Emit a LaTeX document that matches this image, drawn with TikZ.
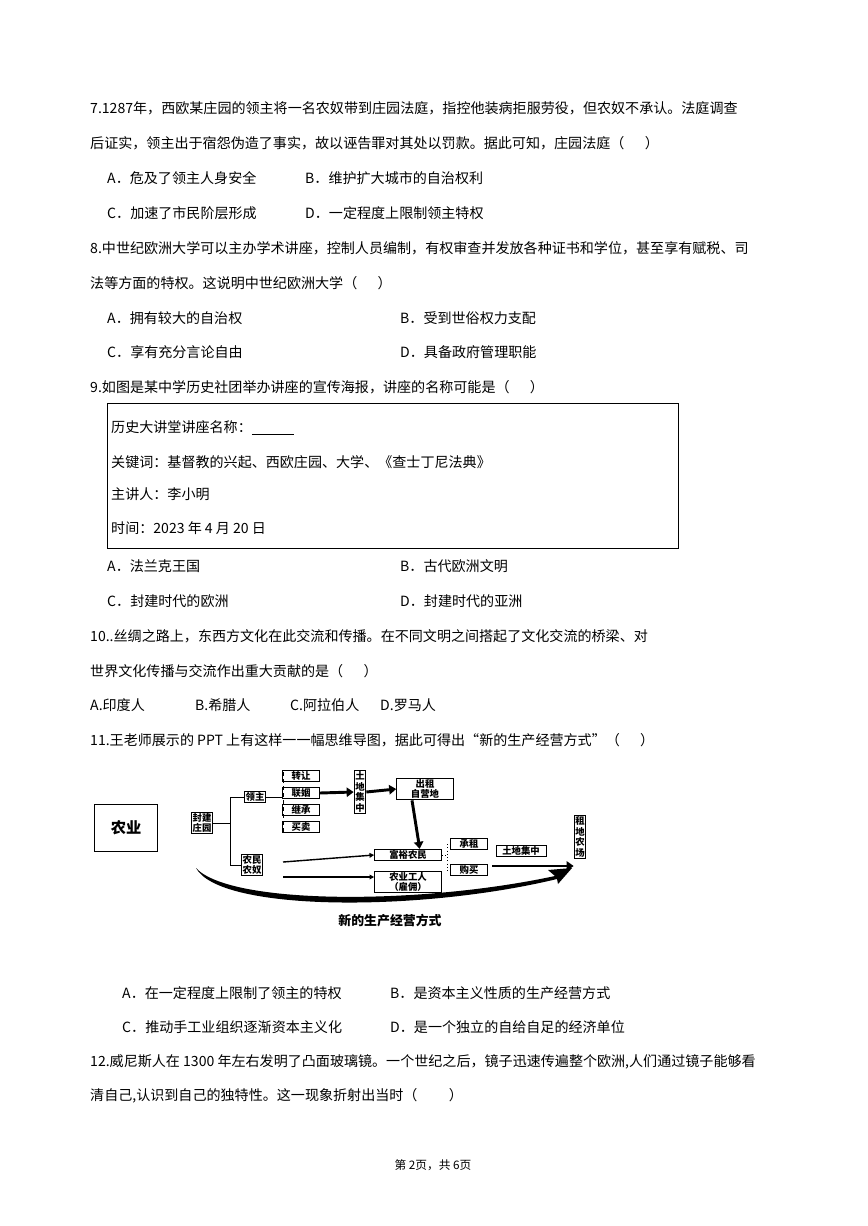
\documentclass[tikz,border=0pt]{standalone}
\usepackage{fontspec}
\setmainfont{Noto Sans CJK SC}
\usetikzlibrary{arrows.meta}
\tikzset{
  line/.style={anchor=west,inner sep=0pt,font=\fontsize{12}{14}\selectfont},
  box/.style={draw,thick,inner sep=1pt,align=center,font=\fontsize{8}{9}\selectfont\bfseries},
  fat/.style={line width=2.5pt,-{Triangle[length=6pt,width=8pt]}},
  thin/.style={line width=1.2pt,-{Triangle[length=4pt,width=4pt]}}
}
\begin{document}
\begin{tikzpicture}[x=0.3mm,y=-0.3mm]
  \useasboundingbox (0,0) rectangle (867,1226);
  % question 7
  \node[line] (q7a) at (90,108) {7.1287年，西欧某庄园的领主将一名农奴带到庄园法庭，指控他装病拒服劳役，但农奴不承认。法庭调查};
  \node[line] (q7b) at (90,143) {后证实，领主出于宿怨伪造了事实，故以诬告罪对其处以罚款。据此可知，庄园法庭（\quad\ \ ）};
  \node[line] (q7A) at (107,178) {A．危及了领主人身安全};
  \node[line] (q7B) at (305,178) {B．维护扩大城市的自治权利};
  \node[line] (q7C) at (107,213) {C．加速了市民阶层形成};
  \node[line] (q7D) at (305,213) {D．一定程度上限制领主特权};
  % question 8
  \node[line] (q8a) at (90,248) {8.中世纪欧洲大学可以主办学术讲座，控制人员编制，有权审查并发放各种证书和学位，甚至享有赋税、司};
  \node[line] (q8b) at (90,283) {法等方面的特权。这说明中世纪欧洲大学（\quad\ \ ）};
  \node[line] (q8A) at (107,318) {A．拥有较大的自治权};
  \node[line] (q8B) at (400,318) {B．受到世俗权力支配};
  \node[line] (q8C) at (107,352) {C．享有充分言论自由};
  \node[line] (q8D) at (400,352) {D．具备政府管理职能};
  % question 9
  \node[line] (q9) at (90,387) {9.如图是某中学历史社团举办讲座的宣传海报，讲座的名称可能是（\quad\ \ ）};
  \draw (107,403) rectangle (678,548);
  \node[line] (p1) at (111,428) {历史大讲堂讲座名称：\underline{\hspace{3em}}};
  \node[line] (p2) at (111,462) {关键词：基督教的兴起、西欧庄园、大学、《查士丁尼法典》};
  \node[line] (p3) at (111,494) {主讲人：李小明};
  \node[line] (p4) at (111,528) {时间：2023 年 4 月 20 日};
  \node[line] (q9A) at (107,566) {A．法兰克王国};
  \node[line] (q9B) at (400,566) {B．古代欧洲文明};
  \node[line] (q9C) at (107,601) {C．封建时代的欧洲};
  \node[line] (q9D) at (400,601) {D．封建时代的亚洲};
  % question 10
  \node[line] (q10a) at (90,636) {10..丝绸之路上，东西方文化在此交流和传播。在不同文明之间搭起了文化交流的桥梁、对};
  \node[line] (q10b) at (90,671) {世界文化传播与交流作出重大贡献的是（\quad\ \ ）};
  \node[line] (q10A) at (90,705) {A.印度人};
  \node[line] (q10B) at (195,705) {B.希腊人};
  \node[line] (q10C) at (290,705) {C.阿拉伯人};
  \node[line] (q10D) at (380,705) {D.罗马人};
  % question 11
  \node[line] (q11) at (90,740) {11.王老师展示的 PPT 上有这样一一幅思维导图，据此可得出“新的生产经营方式”（\quad\ \ ）};
  % mind map
  \node[box,minimum width=19mm,minimum height=14mm,font=\fontsize{13}{14}\selectfont\bfseries] (nongye) at (126,828) {农业};
  \node[box] (zhuangyuan) at (202,823) {封建\\庄园};
  \draw[thick] (230,797) -- (230,866);
  \node[box] (lingzhu) at (255,797) {领主};
  \node[box] (nongmin) at (252,865) {农民\\农奴};
  \draw[thick] (zhuangyuan.east) -- (230,823);
  \draw[thick] (230,797) -- (lingzhu.west);
  \draw[thick] (230,865) -- (nongmin.west);
  \node[box,minimum width=11mm] (zhuan) at (301,776) {转让};
  \node[box,minimum width=11mm] (lian) at (301,793) {联姻};
  \node[box,minimum width=11mm] (ji) at (301,810) {继承};
  \node[box,minimum width=11mm] (mai) at (301,827) {买卖};
  \draw[dashed] (283,772) -- (283,832);
  \draw[thick] (lingzhu.east) -- (283,797);
  \node[box] (jizhong) at (360,792) {土\\地\\集\\中};
  \node[box,minimum width=17mm] (chuzu) at (425,789) {出租\\自营地};
  \node[box,minimum width=20mm] (fuyu) at (408,855) {富裕农民};
  \node[box,minimum width=20mm] (gongren) at (408,882) {农业工人\\（雇佣）};
  \node[box,minimum width=11mm] (chengzu) at (469,844) {承租};
  \node[box,minimum width=11mm] (goumai) at (469,870) {购买};
  \node[box,minimum width=15mm] (jizhong2) at (521,851) {土地集中};
  \node[box] (nongchang) at (580,837) {租\\地\\农\\场};
  \draw[fat] (lian.east) -- (jizhong.west);
  \draw[fat] (jizhong.east) -- (chuzu.west);
  \draw[fat] (chuzu.south -| fuyu.north) ++(4,0) -- ([xshift=4\pgflinewidth]fuyu.north);
  \draw[thin] (283,862) -- (fuyu.west);
  \draw[thin] (283,877) -- (gongren.west |- 0,877);
  \draw[dotted,thick] (fuyu.east) -- (447,855) (447,844) -- (447,870);
  \draw[dotted] (447,844) -- (chengzu.west) (447,870) -- (goumai.west);
  \draw[fat] (492,866) -- (nongchang.west |- 0,866);
  \fill (196,868) .. controls (230,905) and (420,905) .. (555,876)
        -- (548,870) -- (572,868) -- (558,884) -- (557,879)
        .. controls (420,912) and (220,912) .. (196,868) -- cycle;
  \node[font=\fontsize{11}{12}\selectfont\bfseries] (fangshi) at (390,921) {新的生产经营方式};
  \node[line] (q11A) at (122,993) {A．在一定程度上限制了领主的特权};
  \node[line] (q11B) at (390,993) {B．是资本主义性质的生产经营方式};
  \node[line] (q11C) at (122,1027) {C．推动手工业组织逐渐资本主义化};
  \node[line] (q11D) at (390,1027) {D．是一个独立的自给自足的经济单位};
  % question 12
  \node[line] (q12a) at (90,1062) {12.威尼斯人在 1300 年左右发明了凸面玻璃镜。一个世纪之后，镜子迅速传遍整个欧洲,人们通过镜子能够看};
  \node[line] (q12b) at (90,1096) {清自己,认识到自己的独特性。这一现象折射出当时（\qquad\ ）};
  \node[font=\fontsize{10}{12}\selectfont] (foot) at (433,1165) {第 2页，共 6页};
\end{tikzpicture}
\end{document}
